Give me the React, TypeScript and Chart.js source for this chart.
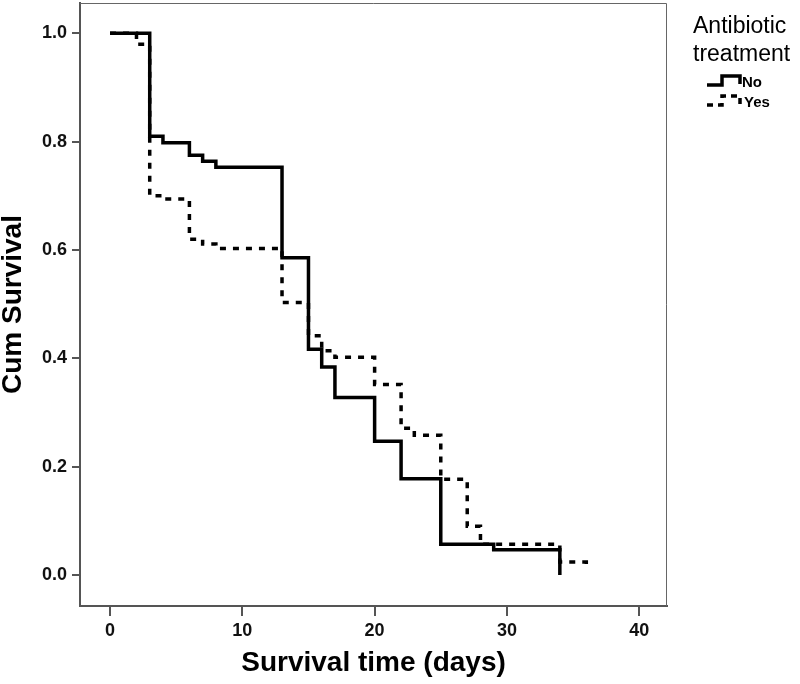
import React, { useEffect, useRef } from "react";
import { Chart, registerables } from "chart.js";

Chart.register(...registerables);

// Kaplan–Meier steps (time in days, cumulative survival after the event at that time)
const noTimes = [0, 3, 4, 6, 7, 8, 13, 15, 16, 17, 20, 22, 25, 29, 34];
const noSurv = [1.0, 0.81, 0.798, 0.775, 0.764, 0.753, 0.586, 0.417, 0.384, 0.328, 0.247, 0.178, 0.057, 0.047, 0.0];

const yesTimes = [0, 2, 3, 4, 6, 7, 8, 13, 15, 16, 17, 20, 22, 23, 25, 27, 28, 34, 36];
const yesSurv = [1.0, 0.98, 0.70, 0.694, 0.62, 0.611, 0.603, 0.503, 0.442, 0.414, 0.402, 0.352, 0.271, 0.258, 0.177, 0.09, 0.057, 0.024, 0.015];

const xTickValues = [0, 10, 20, 30, 40];
const yTickValues = [0, 0.2, 0.4, 0.6, 0.8, 1.0];

const seriesLabels = ["No", "Yes"];
const legendTitle = ["Antibiotic", "treatment"];
const xTitle = "Survival time (days)";
const yTitle = "Cum Survival";

const frame = {
  id: "frame",
  afterDraw(chart: any) {
    const { ctx, chartArea } = chart;
    ctx.save();
    ctx.strokeStyle = "#666";
    ctx.lineWidth = 1;
    ctx.beginPath();
    ctx.moveTo(chartArea.left, chartArea.top + 0.5);
    ctx.lineTo(chartArea.right - 0.5, chartArea.top + 0.5);
    ctx.lineTo(chartArea.right - 0.5, chartArea.bottom);
    ctx.stroke();
    ctx.restore();
  },
};

export default function App() {
  const ref = useRef<HTMLCanvasElement>(null);

  useEffect(() => {
    document.body.style.margin = "0";
    const tickFont = { family: "'Liberation Sans', Arial, sans-serif", size: 18, weight: "bold" as const };
    const chart = new Chart(ref.current!, {
      type: "scatter",
      data: {
        datasets: [
          {
            label: seriesLabels[0],
            data: noTimes.map((t, i) => ({ x: t, y: noSurv[i] })),
            showLine: true,
            stepped: "before",
            borderColor: "#000",
            borderWidth: 3.5,
            pointRadius: 0,
            order: 1,
          },
          {
            label: seriesLabels[1],
            data: yesTimes.map((t, i) => ({ x: t, y: yesSurv[i] })),
            showLine: true,
            stepped: "before",
            borderColor: "#000",
            borderWidth: 3.5,
            borderDash: [6, 7],
            pointRadius: 0,
            order: 2,
          },
        ],
      },
      options: {
        responsive: false,
        animation: false,
        layout: { padding: { top: 3, right: 133, left: 0, bottom: 0 } },
        plugins: { legend: { display: false }, tooltip: { enabled: false } },
        scales: {
          x: {
            type: "linear",
            min: -2.27,
            max: 42.1,
            afterBuildTicks: (s: any) => {
              s.ticks = xTickValues.map((v) => ({ value: v }));
            },
            afterFit: (s: any) => {
              s.height = 78;
              s.paddingLeft = 0;
              s.paddingRight = 0;
            },
            ticks: { font: tickFont, color: "#111", padding: 4, maxRotation: 0 },
            grid: { drawOnChartArea: false, drawTicks: true, tickLength: 10, color: "#555", lineWidth: 2 },
            border: { display: true, color: "#555", width: 2 },
            title: {
              display: true,
              text: xTitle,
              color: "#000",
              font: { family: "'Liberation Sans', Arial, sans-serif", size: 28, weight: "bold", lineHeight: 1 },
              padding: { top: 0, bottom: 7 },
            },
          },
          y: {
            type: "linear",
            min: -0.057,
            max: 1.056,
            afterBuildTicks: (s: any) => {
              s.ticks = yTickValues.map((v) => ({ value: v }));
            },
            afterFit: (s: any) => {
              s.width = 80;
              s.paddingTop = 0;
              s.paddingBottom = 0;
            },
            ticks: {
              font: tickFont,
              color: "#111",
              padding: 5,
              callback: (v: any) => Number(v).toFixed(1),
            },
            grid: { drawOnChartArea: false, drawTicks: true, tickLength: 8, color: "#555", lineWidth: 2 },
            border: { display: true, color: "#555", width: 2 },
            title: {
              display: true,
              text: yTitle,
              color: "#000",
              font: { family: "'Liberation Sans', Arial, sans-serif", size: 28, weight: "bold", lineHeight: 1 },
              padding: { top: -1, bottom: 0 },
            },
          },
        },
      },
      plugins: [frame],
    });
    return () => chart.destroy();
  }, []);

  return (
    <div style={{ position: "relative", width: 800, height: 684, background: "#fff" }}>
      <canvas ref={ref} width={800} height={684} style={{ display: "block" }} />
      <div
        style={{
          position: "absolute",
          left: 693,
          top: 11,
          fontFamily: "'Liberation Sans', Arial, sans-serif",
          fontSize: 23,
          lineHeight: "28px",
          color: "#000",
          whiteSpace: "nowrap",
        }}
      >
        {legendTitle.map((l) => (
          <div key={l}>{l}</div>
        ))}
      </div>
      <svg style={{ position: "absolute", left: 0, top: 0 }} width={800} height={684} pointerEvents="none">
        <polyline points="707,85 722,85 722,76 740,76 740,84" fill="none" stroke="#000" strokeWidth={3.5} />
        <polyline points="707,105 722,105 722,96 740,96 740,104" fill="none" stroke="#000" strokeWidth={3.5} strokeDasharray="6 5" />
      </svg>
      <div
        style={{
          position: "absolute",
          left: 742,
          top: 72,
          fontFamily: "'Liberation Sans', Arial, sans-serif",
          fontSize: 15,
          fontWeight: "bold",
          lineHeight: "20px",
          color: "#000",
        }}
      >
        <div>{seriesLabels[0]}</div>
        <div style={{ marginLeft: 2 }}>{seriesLabels[1]}</div>
      </div>
    </div>
  );
}
